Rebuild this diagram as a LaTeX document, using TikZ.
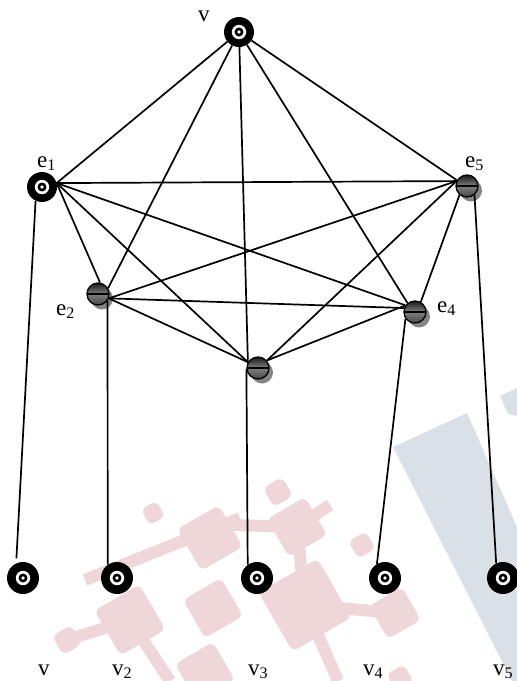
\documentclass[tikz,border=0pt]{standalone}
\usepackage{fontspec}
\setmainfont{Liberation Serif}
\usetikzlibrary{shadows}
\definecolor{wmpink}{RGB}{239,214,216}
\definecolor{wmblue}{RGB}{217,224,230}
\begin{document}
\begin{tikzpicture}[x=1pt,y=-1pt,
  target/.style={circle,fill=black,inner sep=0pt,minimum size=#1,
    path picture={
      \fill[white] (path picture bounding box.center) circle[radius=7.2pt];
      \fill[black] (path picture bounding box.center) circle[radius=4.5pt];
      \fill[white] (path picture bounding box.center) circle[radius=1.8pt];}},
  target/.default=30pt,
  ballnode/.style={circle,draw=black,line width=1.3pt,inner sep=0pt,minimum size=22pt,
    top color=black!90,bottom color=black!72,middle color=black!50,
    drop shadow={shadow xshift=4pt,shadow yshift=-4.5pt,fill=black!48,opacity=1},
    path picture={
      \draw[black,line width=1.2pt] (path picture bounding box.west) -- (path picture bounding box.east);}},
  edge/.style={line width=1.7pt,black},
  lbl/.style={font=\fontsize{23}{27}\selectfont,inner sep=0pt,anchor=base west},
  wmbar/.style={wmpink,line width=12pt}]
\useasboundingbox (0,0) rectangle (517,681);

% faint background mark
\begin{scope}
  \clip (0,0) rectangle (517,681);
  \fill[wmblue] (393,447) -- (467,413) -- (517,527) -- (517,681) -- (512,681) -- cycle;
  \fill[wmblue] (500,396) -- (517,388) -- (517,416) -- (508,414) -- cycle;
  \draw[wmbar] (67,640) -- (130,620);
  \draw[wmbar] (85,580) -- (240,518);
  \draw[wmbar] (233,525) -- (297,527);
  \draw[wmbar] (297,527) -- (305,605);
  \draw[wmbar] (305,605) -- (395,613);
  \draw[wmbar] (130,620) -- (170,681);
  \draw[wmbar] (305,605) -- (338,681);
  \draw[wmbar] (297,527) -- (330,505);
  \foreach \cx/\cy/\s in {67/640/22, 130/620/52, 213/608/44, 210/538/48, 305/605/68,
      297/527/44, 395/613/38, 362/545/20, 278/492/22, 153/513/18, 205/672/44, 400/678/20}
    \fill[wmpink,shift={(\cx,\cy)},rotate=30,rounded corners=6pt]
      (-\s/2,-\s/2) rectangle (\s/2,\s/2);
\end{scope}

% vertices
\node[target] (v) at (239,32) {};
\node[target] (e1) at (42,187) {};
\node[ballnode] (e5) at (467,186) {};
\node[ballnode] (e2) at (98,294) {};
\node[ballnode] (e4) at (415,312) {};
\node[ballnode] (e3) at (258,368) {};
\node[target=32pt] (b1) at (23,578) {};
\node[target=32pt] (b2) at (117,578) {};
\node[target=32pt] (b3) at (257,578) {};
\node[target=32pt] (b4) at (385,578) {};
\node[target=32pt] (b5) at (503,578) {};

% labels
\node[lbl] (lv) at (198,21) {v};
\node[lbl] (le1) at (37,167) {e\textsubscript{1}};
\node[lbl] (le5) at (465,167) {e\textsubscript{5}};
\node[lbl] (le2) at (56,315) {e\textsubscript{2}};
\node[lbl] (le4) at (437,312) {e\textsubscript{4}};
\node[lbl] (lb1) at (38,675) {v};
\node[lbl] (lb2) at (112,675) {v\textsubscript{2}};
\node[lbl] (lb3) at (248,675) {v\textsubscript{3}};
\node[lbl] (lb4) at (363,675) {v\textsubscript{4}};
\node[lbl] (lb5) at (493,675) {v\textsubscript{5}};

% edges of the complete graph
\draw[edge] (v) -- (e1.15);
\draw[edge] (v) -- (e2.30);
\draw[edge] (v) -- (e3.150);
\draw[edge] (v) -- (e4.130);
\draw[edge] (v) -- (e5.150);
\draw[edge] (e1.15) -- (e5.155);
\draw[edge] (e1.15) -- (e2.80);
\draw[edge] (e1.15) -- (e3.150);
\draw[edge] (e1.15) -- (e4.145);
\draw[edge] (e2.-22) -- (e5.155);
\draw[edge] (e2.-22) -- (e4.160);
\draw[edge] (e2.-22) -- (e3.150);
\draw[edge] (e3.40) -- (e5.155);
\draw[edge] (e3.40) -- (e4.145);
\draw[edge] (e5.-130) -- (e4.60);

% pendant edges
\draw[edge,shorten >=5pt] (e1.-115) -- (b1.115);
\draw[edge] (e2.-35) -- (b2.125);
\draw[edge] (e3.185) -- (b3.125);
\draw[edge] (e4.-145) -- (b4.120);
\draw[edge] (e5.-50) -- (b5.115);
\end{tikzpicture}
\end{document}
